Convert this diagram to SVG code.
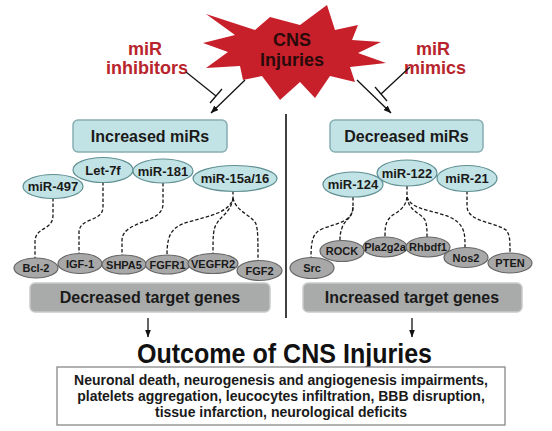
<svg xmlns="http://www.w3.org/2000/svg" width="552" height="431" viewBox="0 0 552 431">
<defs>
<marker id="ah" markerUnits="userSpaceOnUse" markerWidth="8" markerHeight="6" refX="7.5" refY="3" orient="auto">
<path d="M0,0 L8,3 L0,6 z" fill="#111"/>
</marker>
<style>
text{font-family:"Liberation Sans",Arial,sans-serif;font-weight:bold;text-anchor:middle;fill:#1a1a1a}
.red{fill:#b8252c;font-size:18px}
.box{fill:#c2e3e5;stroke:#86afb2;stroke-width:1.5}
.mir{fill:#c2e3e5;stroke:#5f8f93;stroke-width:1.2}
.gbox{fill:#a9abaa;stroke:#c9cbca;stroke-width:1.5}
.gene{fill:#a8a8a8;stroke:#666;stroke-width:1.2}
.bt{font-size:16px}
.mt{font-size:13px}
.gt{font-size:11px}
.dash{fill:none;stroke:#1a1a1a;stroke-width:1.3;stroke-dasharray:3.5 2}
.ln{fill:none;stroke:#111;stroke-width:1.3}
</style>
</defs>
<rect width="552" height="431" fill="#fff"/>

<g id="star">
<polygon fill="#c8202b" points="327,5 335,30 358,25 352,40 381,42 358,53 386,63 350,67 355,82 330,76 315,98 300,82 280,100 262,76 243,80 240,66 206,68 228,52 203,43 235,35 206,14 255,30 270,17 300,25"/>
<text x="292" y="46" style="font-size:18px;fill:#2a0a0a">CNS</text>
<text x="292" y="66" style="font-size:18px;fill:#2a0a0a">Injuries</text>
</g>

<g id="inhibitors-label">
<text class="red" x="145" y="55">miR</text>
<text class="red" x="147" y="74">inhibitors</text>
</g>
<g id="mimics-label">
<text class="red" x="433" y="55">miR</text>
<text class="red" x="435" y="74">mimics</text>
</g>

<g id="connectors">
<line class="ln" x1="186" y1="72" x2="216" y2="96"/>
<line class="ln" x1="210" y1="103" x2="222" y2="89"/>
<line class="ln" x1="245" y1="80" x2="211" y2="113" marker-end="url(#ah)"/>
<line class="ln" x1="410" y1="67" x2="381" y2="94"/>
<line class="ln" x1="375" y1="87" x2="387" y2="101"/>
<line class="ln" x1="357" y1="80" x2="391" y2="113" marker-end="url(#ah)"/>
<line x1="286" y1="114" x2="286" y2="318" stroke="#111" stroke-width="1.6"/>
<line class="ln" x1="148" y1="318" x2="148" y2="337" marker-end="url(#ah)"/>
<line class="ln" x1="412" y1="318" x2="412" y2="337" marker-end="url(#ah)"/>
<!-- left dashed -->
<path class="dash" d="M53,198 L53,215 C53,231 36,226 35,241 L35,258"/>
<path class="dash" d="M103,182 L103,207 C103,222 80,217 79,232 L79,253"/>
<path class="dash" d="M163,183 L163,204 C163,224 123,220 122,240 L122,255"/>
<path class="dash" d="M233,191 L233,198 C230,212 210,216 188,222 C172,227 167,234 167,255"/>
<path class="dash" d="M233,198 C231,212 222,215 217,223 C213,229 213,236 213,254"/>
<path class="dash" d="M233,198 C236,212 252,215 256,224 C258,230 258,240 258,261"/>
<!-- right dashed -->
<path class="dash" d="M353,197 L353,207 C352,222 340,222 322,229 C313,233 311,240 311,258"/>
<path class="dash" d="M353,207 C353,218 344,220 342,228 C340,234 340,236 340,241"/>
<path class="dash" d="M407,186 L407,197 C405,212 393,212 388,220 C385,225 385,230 385,237"/>
<path class="dash" d="M407,197 C409,212 420,212 425,220 C427,225 427,230 427,237"/>
<path class="dash" d="M407,197 C412,212 440,210 455,220 C465,227 465,235 465,248"/>
<path class="dash" d="M467,191 L467,206 C467,222 495,222 506,230 C510,235 510,240 510,253"/>
</g>

<g id="increased-mirs">
<rect class="box" x="73" y="120" width="154" height="32" rx="5"/>
<text class="bt" x="150" y="142">Increased miRs</text>
</g>
<g id="decreased-mirs">
<rect class="box" x="330" y="120" width="153" height="32" rx="5"/>
<text class="bt" x="406.5" y="142">Decreased miRs</text>
</g>

<g id="mir-497"><ellipse class="mir" cx="53" cy="186.5" rx="30" ry="12"/><text class="mt" x="53" y="191">miR-497</text></g>
<g id="let-7f"><ellipse class="mir" cx="103" cy="170" rx="30" ry="12.5"/><text class="mt" x="103" y="174.5">Let-7f</text></g>
<g id="mir-181"><ellipse class="mir" cx="163" cy="171" rx="30" ry="12"/><text class="mt" x="163" y="175.5">miR-181</text></g>
<g id="mir-15a16"><ellipse class="mir" cx="235" cy="178.5" rx="42" ry="13"/><text class="mt" x="235" y="183">miR-15a/16</text></g>

<g id="mir-124"><ellipse class="mir" cx="353" cy="184.5" rx="30" ry="12.5"/><text class="mt" x="353" y="189">miR-124</text></g>
<g id="mir-122"><ellipse class="mir" cx="407" cy="173" rx="30" ry="13"/><text class="mt" x="407" y="177.5">miR-122</text></g>
<g id="mir-21"><ellipse class="mir" cx="467" cy="178.5" rx="30" ry="13"/><text class="mt" x="467" y="183">miR-21</text></g>

<g id="bcl-2"><ellipse class="gene" cx="36" cy="268" rx="22" ry="10"/><text class="gt" x="36" y="272">Bcl-2</text></g>
<g id="igf-1"><ellipse class="gene" cx="80" cy="263.5" rx="22" ry="10"/><text class="gt" x="80" y="267.5">IGF-1</text></g>
<g id="shpa5"><ellipse class="gene" cx="124" cy="264.5" rx="22" ry="9.5"/><text class="gt" x="124" y="268.5">SHPA5</text></g>
<g id="fgfr1"><ellipse class="gene" cx="167.5" cy="264.5" rx="22" ry="9.5"/><text class="gt" x="167.5" y="268.5">FGFR1</text></g>
<g id="vegfr2"><ellipse class="gene" cx="213" cy="263.5" rx="25" ry="10"/><text class="gt" x="213" y="267.5">VEGFR2</text></g>
<g id="fgf2"><ellipse class="gene" cx="259.5" cy="270.5" rx="22.5" ry="10"/><text class="gt" x="259.5" y="274.5">FGF2</text></g>

<g id="src"><ellipse class="gene" cx="312" cy="268" rx="22" ry="10.5"/><text class="gt" x="312" y="272">Src</text></g>
<g id="rock"><ellipse class="gene" cx="342" cy="251" rx="22" ry="10.5"/><text class="gt" x="342" y="255">ROCK</text></g>
<g id="pla2g2a"><ellipse class="gene" cx="385" cy="247" rx="22" ry="10"/><text class="gt" x="385" y="251">Pla2g2a</text></g>
<g id="rhbdf1"><ellipse class="gene" cx="428" cy="247" rx="22" ry="10"/><text class="gt" x="428" y="251">Rhbdf1</text></g>
<g id="nos2"><ellipse class="gene" cx="466" cy="257.5" rx="22" ry="10"/><text class="gt" x="466" y="261.5">Nos2</text></g>
<g id="pten"><ellipse class="gene" cx="510" cy="263" rx="22" ry="10"/><text class="gt" x="510" y="267">PTEN</text></g>

<g id="decreased-targets">
<rect class="gbox" x="30" y="283" width="240" height="29" rx="5"/>
<text class="bt" x="150" y="303">Decreased target genes</text>
</g>
<g id="increased-targets">
<rect class="gbox" x="303" y="283" width="219" height="29" rx="5"/>
<text class="bt" x="412" y="303">Increased target genes</text>
</g>

<g id="outcome">
<text x="284.5" y="363" style="font-size:28px;fill:#111" textLength="295" lengthAdjust="spacingAndGlyphs">Outcome of CNS Injuries</text>
<rect x="57" y="367" width="448" height="58" fill="#fff" stroke="#888" stroke-width="1.3"/>
<text x="281" y="385" style="font-size:14px">Neuronal death, neurogenesis and angiogenesis impairments,</text>
<text x="281" y="401" style="font-size:14px">platelets aggregation, leucocytes infiltration, BBB disruption,</text>
<text x="281" y="417" style="font-size:14px">tissue infarction, neurological deficits</text>
</g>
</svg>
